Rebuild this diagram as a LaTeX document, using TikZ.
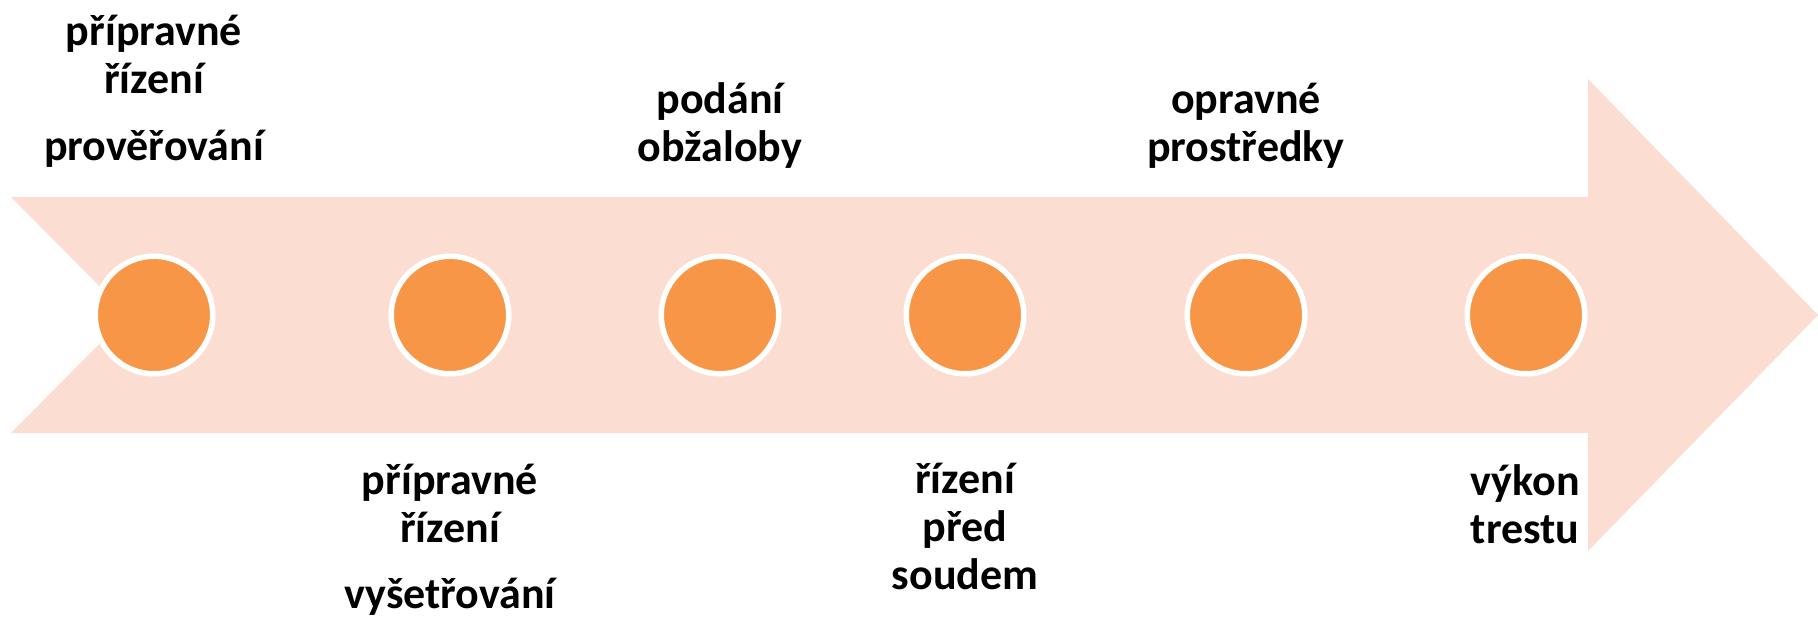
\documentclass[tikz,border=0pt]{standalone}
\usepackage{fontspec}
\setmainfont{Carlito}
\definecolor{peach}{HTML}{FCDDD1}
\definecolor{dotorange}{HTML}{F79646}
\begin{document}
\begin{tikzpicture}[x=1pt,y=-1pt,
  dotnode/.style={circle,fill=dotorange,draw=white,line width=5.5pt,minimum size=117.5pt,inner sep=0pt},
  lab/.style={font=\fontsize{44}{48}\selectfont\bfseries,align=center,anchor=base,inner sep=0pt}]
\useasboundingbox (0,0) rectangle (1818,616);
\fill[peach] (11,197) -- (1588,197) -- (1588,79) -- (1818,315) -- (1588,551) -- (1588,433) -- (11,433) -- (128,315) -- cycle;
\node[dotnode] (d1) at (154,315) {};
\node[dotnode] (d2) at (450,315) {};
\node[dotnode] (d3) at (720,315) {};
\node[dotnode] (d4) at (965,315) {};
\node[dotnode] (d5) at (1246,315) {};
\node[dotnode] (d6) at (1526,315) {};
\node[lab] (t1a) at (154,93) {přípravné\\řízení};
\node[lab] (t1b) at (154,160) {prověřování};
\node[lab] (t3) at (720,161) {podání\\obžaloby};
\node[lab] (t5) at (1246,161) {opravné\\prostředky};
\node[lab] (t2a) at (450,542) {přípravné\\řízení};
\node[lab] (t2b) at (450,608) {vyšetřování};
\node[lab] (t4) at (965,589) {řízení\\před\\soudem};
\node[lab] (t6) at (1525,543) {výkon\\trestu};
\end{tikzpicture}
\end{document}
